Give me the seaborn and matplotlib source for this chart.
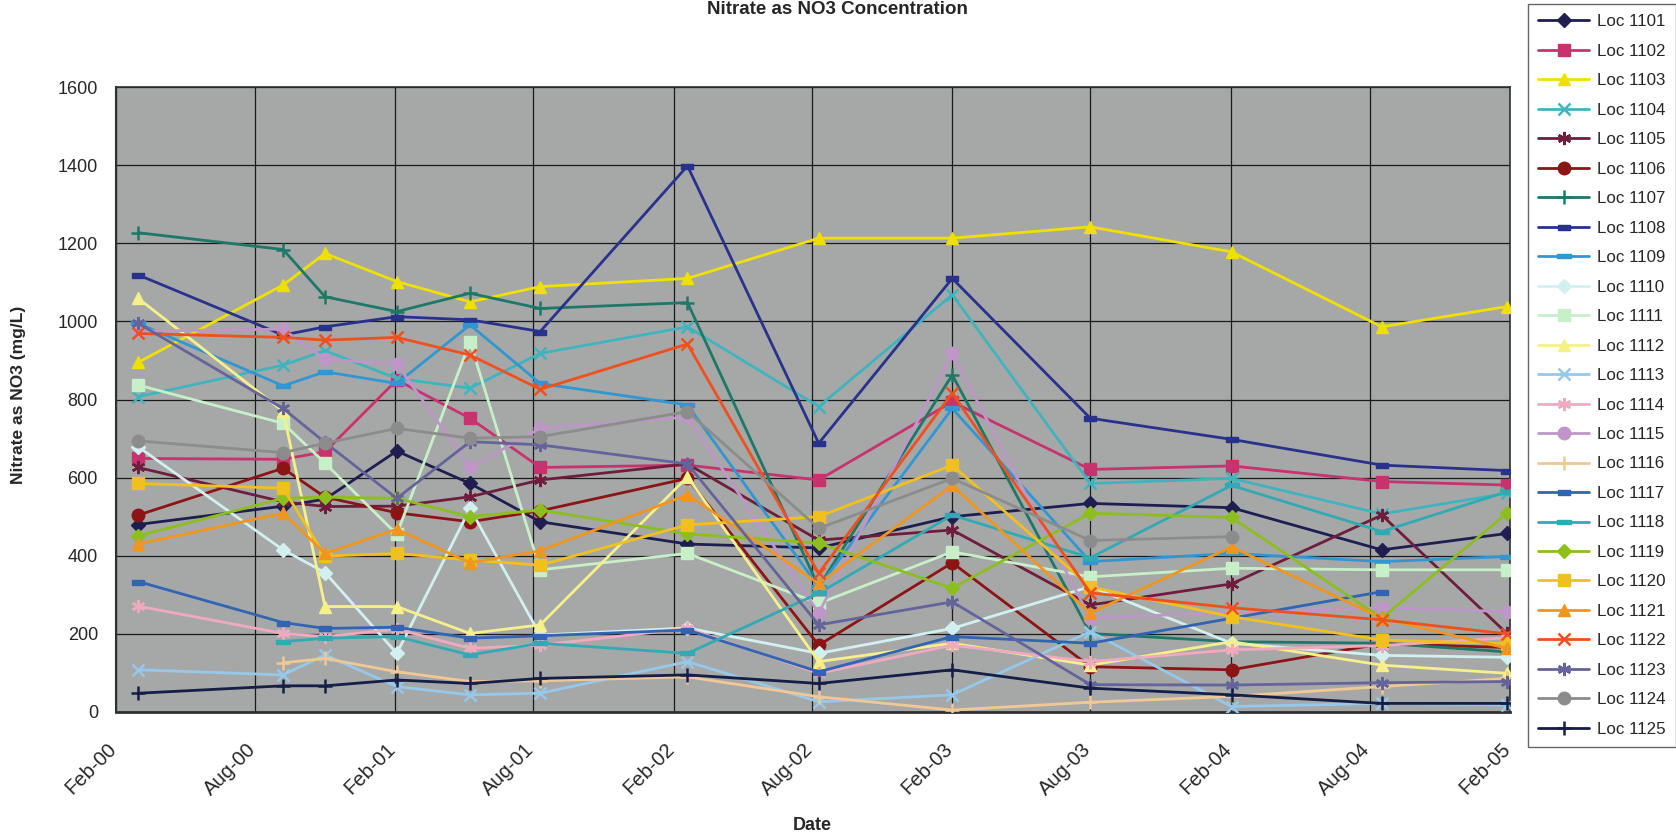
import numpy as np
import pandas as pd
import matplotlib
matplotlib.use("Agg")
import matplotlib.pyplot as plt
import matplotlib.dates as mdates
import matplotlib.transforms as mtransforms
import seaborn as sns

# Sampling dates
sample_dates = ["2000-03-01", "2000-09-07", "2000-11-01", "2001-02-03", "2001-05-10",
                "2001-08-10", "2002-02-19", "2002-08-10", "2003-02-01", "2003-08-01",
                "2004-02-02", "2004-08-17", "2005-01-28"]

nan = np.nan
# Nitrate as NO3 (mg/L) per monitoring location
loc_1101 = [480, 527, 545, 668, 585, 487, 430, 420, 500, 534, 523, 415, 457]
loc_1102 = [649, 647, 666, 850, 752, 626, 632, 594, 794, 621, 630, 590, 581]
loc_1103 = [895, 1093, 1174, 1102, 1050, 1089, 1110, 1213, 1213, 1242, 1178, 986, 1038]
loc_1104 = [807, 888, 925, 854, 829, 918, 986, 782, 1068, 585, 598, 507, 560]
loc_1105 = [626, 538, 526, 527, 551, 594, 635, 440, 466, 274, 328, 504, 201]
loc_1106 = [504, 624, 550, 510, 487, 515, 598, 171, 382, 116, 108, 175, 165]
loc_1107 = [1227, 1184, 1063, 1025, 1072, 1033, 1048, 320, 863, 201, 180, 176, 154]
loc_1108 = [1119, 965, 986, 1012, 1004, 974, 1398, 688, 1110, 752, 698, 632, 618]
loc_1109 = [995, 835, 871, 841, 991, 841, 786, 320, 777, 385, 406, 385, 398]
loc_1110 = [679, 415, 357, 150, 521, 197, 215, 150, 214, 321, 176, 145, 140]
loc_1111 = [837, 739, 637, 455, 948, 364, 406, 278, 410, 346, 368, 364, 364]
loc_1112 = [1059, 770, 270, 270, 201, 223, 602, 129, 176, 120, 180, 120, 99]
loc_1113 = [108, 95, 146, 65, 44, 48, 129, 26, 44, 206, 14, 22, 18]
loc_1114 = [271, 201, 193, 212, 163, 171, 214, 99, 171, 129, 159, 170, 190]
loc_1115 = [975, 980, 903, 891, 626, 726, 755, 253, 918, 240, 255, 267, 257]
loc_1116 = [nan, 126, 137, 103, 78, 80, 90, 39, 5, 25, 40, 65, 86]
loc_1117 = [334, 229, 214, 217, 189, 195, 210, 103, 193, 176, 240, 308, nan]
loc_1118 = [nan, 180, 189, 193, 146, 176, 150, 304, 504, 395, 580, 462, 564]
loc_1119 = [451, 547, 550, 547, 500, 517, 456, 432, 317, 509, 498, 240, 509]
loc_1120 = [585, 573, 399, 406, 389, 376, 479, 500, 632, 320, 244, 184, 175]
loc_1121 = [430, 509, 406, 468, 382, 413, 556, 329, 580, 253, 423, 240, 163]
loc_1122 = [969, 959, 952, 959, 914, 826, 942, 355, 816, 305, 267, 236, 200]
loc_1123 = [995, 777, 690, 547, 692, 684, 635, 223, 282, 70, 69, 75, 78]
loc_1124 = [694, 664, 688, 726, 701, 705, 769, 470, 598, 439, 449, nan, nan]
loc_1125 = [48, 67, 67, 82, 73, 86, 95, 73, 108, 61, 44, 22, 22]

series_names = ["Loc 1101", "Loc 1102", "Loc 1103", "Loc 1104", "Loc 1105", "Loc 1106",
                "Loc 1107", "Loc 1108", "Loc 1109", "Loc 1110", "Loc 1111", "Loc 1112",
                "Loc 1113", "Loc 1114", "Loc 1115", "Loc 1116", "Loc 1117", "Loc 1118",
                "Loc 1119", "Loc 1120", "Loc 1121", "Loc 1122", "Loc 1123", "Loc 1124",
                "Loc 1125"]
series_values = [loc_1101, loc_1102, loc_1103, loc_1104, loc_1105, loc_1106, loc_1107,
                 loc_1108, loc_1109, loc_1110, loc_1111, loc_1112, loc_1113, loc_1114,
                 loc_1115, loc_1116, loc_1117, loc_1118, loc_1119, loc_1120, loc_1121,
                 loc_1122, loc_1123, loc_1124, loc_1125]

colors = ["#1E1E50", "#C8326E", "#F0E000", "#40B4BE", "#6E1E3C", "#8C1414", "#1E7868",
          "#28328C", "#3296D2", "#D2F0F0", "#C8F0C8", "#F5F08C", "#96C8EB", "#F0AAC0",
          "#BE96C8", "#F0C896", "#3264B4", "#32AAB4", "#8CBE1E", "#F0C01E", "#F0961E",
          "#F0501E", "#64649B", "#8C8C8C", "#141E46"]

# Marker cycle: diamond, square, triangle, x, star, circle, plus, short dash, long dash
short_dash = [(-1, -0.45), (1, -0.45), (1, 0.45), (-1, 0.45), (-1, -0.45)]
long_dash = [(-1, -0.3), (1, -0.3), (1, 0.3), (-1, 0.3), (-1, -0.3)]
marker_cycle = [("D", 7), ("s", 8), ("^", 9), ("x", 8), ((6, 2, 0), 9.5),
                ("o", 9), ("+", 9.5), (short_dash, 8), (long_dash, 10)]

sns.set_style("white")
plt.rcParams["font.family"] = ["Liberation Sans", "DejaVu Sans"]

fig = plt.figure(figsize=(16.76, 8.40), dpi=100)
ax = fig.add_axes([116 / 1676, 128 / 840, (1510 - 116) / 1676, (712 - 87) / 840])
ax.set_facecolor("#A6A8A8")

dates = pd.to_datetime(sample_dates)
for i, (name, vals) in enumerate(zip(series_names, series_values)):
    mk, ms = marker_cycle[i % 9]
    df = pd.DataFrame({"Date": dates, "Value": vals}).dropna()
    sns.lineplot(data=df, x="Date", y="Value", ax=ax, color=colors[i], label=name,
                 marker=mk, markersize=ms, markeredgecolor=colors[i],
                 markeredgewidth=1.8 if mk in ("x", "+") or isinstance(mk, tuple) else 1.0,
                 linewidth=2.0, estimator=None, sort=False, zorder=3)

ax.set_xlim(pd.Timestamp("2000-02-01"), pd.Timestamp("2005-02-01"))
ax.set_ylim(0, 1600)
ax.set_yticks(np.arange(0, 1601, 200))
ax.xaxis.set_major_locator(mdates.MonthLocator(bymonth=(2, 8), bymonthday=1))
ax.xaxis.set_major_formatter(mdates.DateFormatter("%b-%y"))

ax.grid(True, color="#1A1A1A", linewidth=0.9, zorder=1)
ax.set_axisbelow(True)
for side, sp in ax.spines.items():
    sp.set_visible(True)
    sp.set_color("#303030")
    sp.set_linewidth(1.2)
ax.spines["bottom"].set_linewidth(2.0)
ax.spines["left"].set_linewidth(1.5)

ax.tick_params(axis="y", which="major", direction="out", length=7, width=1,
               color="#303030", labelsize=13, pad=6)
ax.tick_params(axis="x", which="major", direction="out", length=7, width=1,
               color="#303030", labelsize=14.5, pad=13)
shift = mtransforms.ScaledTranslation(-9 / 100, 0, fig.dpi_scale_trans)
for lbl in ax.get_xticklabels():
    lbl.set_rotation(45)
    lbl.set_ha("right")
    lbl.set_rotation_mode("anchor")
    lbl.set_transform(lbl.get_transform() + shift)

ax.set_xlabel("")
ax.set_ylabel("")
fig.text(812 / 1676, 1 - 826 / 840, "Date", ha="center", va="center",
         fontsize=13, fontweight="bold")
fig.text(19 / 1676, 1 - 395 / 840, "Nitrate as NO3 (mg/L)", ha="center", va="center",
         rotation=90, fontsize=12.5, fontweight="bold")
fig.text(837 / 1676, 1 - 10 / 840, "Nitrate as NO3 Concentration", ha="center",
         va="center", fontsize=13.5, fontweight="bold",
         family=["Liberation Sans Narrow", "Liberation Sans", "DejaVu Sans"])

leg = ax.legend(loc="upper left", bbox_to_anchor=(1528 / 1676, 1 - 4 / 840),
                bbox_transform=fig.transFigure, frameon=True, fancybox=False,
                edgecolor="#404040", fontsize=12.2, labelspacing=0.855,
                handlelength=3.0, handletextpad=0.5, borderaxespad=0, borderpad=0.6)
leg.get_frame().set_linewidth(1.0)

fig.savefig("out.png", dpi=100, facecolor="white")
